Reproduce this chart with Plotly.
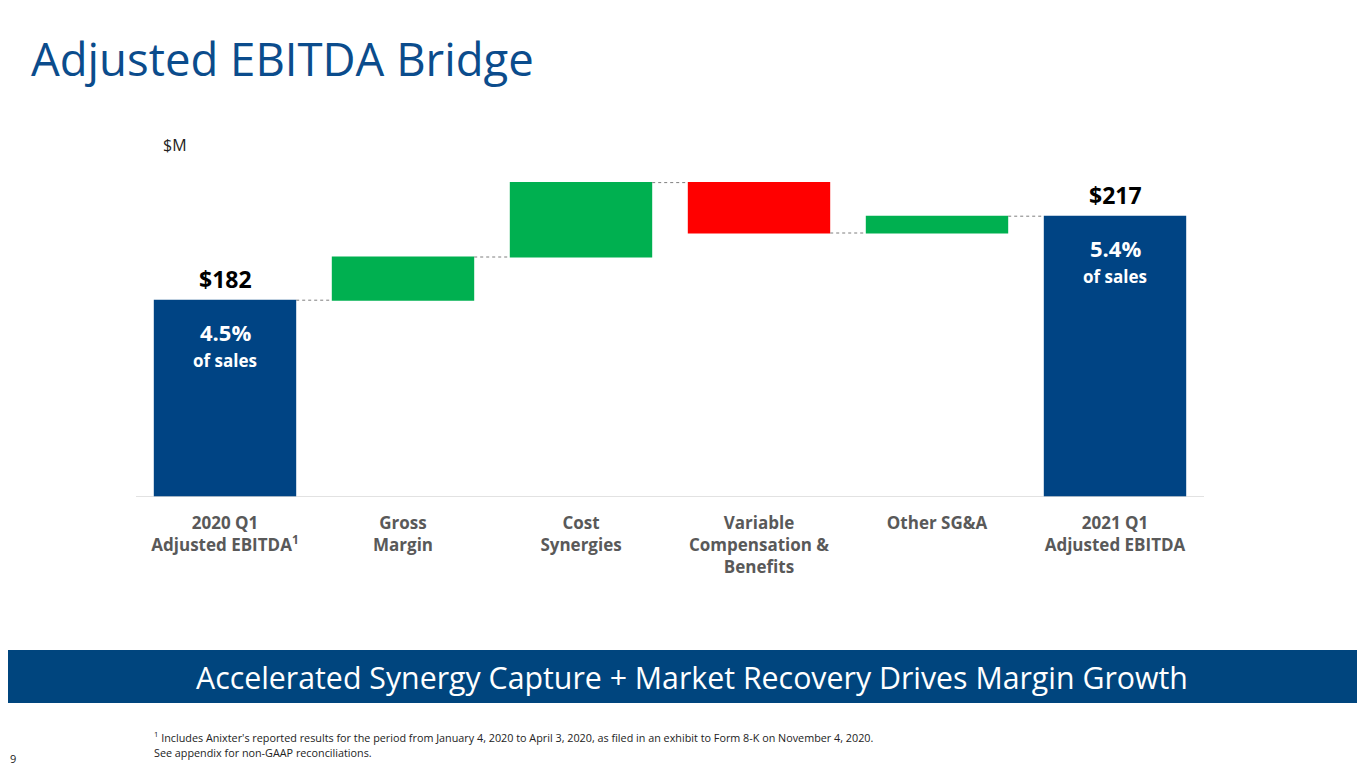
import plotly.graph_objects as go

categories = ["2020 Q1<br>Adjusted EBITDA<sup>1</sup>", "Gross<br>Margin", "Cost<br>Synergies",
              "Variable<br>Compensation &<br>Benefits", "Other SG&A", "2021 Q1<br>Adjusted EBITDA"]
measures = ["absolute", "relative", "relative", "relative", "relative", "total"]
values = [182, 18, 31, -21, 7, 0]
total_labels = ["$182", "$217"]
pct_labels = ["4.5%", "5.4%"]
pct_sub = ["of sales", "of sales"]

BLUE = "#004484"
FONT = "Open Sans"

# page offset (browser body margin) and plot area in screen pixels
OFF = 8
PL, PR, PT, PB = 136, 1204, 113, 497
W, H = 1365 - OFF, 768 - OFF


def px(sx, sy):
    return (sx - PL) / (PR - PL), (PB - sy) / (PB - PT)


fig = go.Figure(go.Waterfall(
    x=list(range(len(categories))),
    measure=measures,
    y=values,
    base=0,
    increasing=dict(marker=dict(color="#00B050")),
    decreasing=dict(marker=dict(color="#FF0000")),
    totals=dict(marker=dict(color=BLUE)),
    connector=dict(line=dict(color="#7F7F7F", width=1, dash="dot")),
    textposition="none",
    hoverinfo="skip",
))

cum = []
s = 0
for m, v in zip(measures, values):
    if m == "absolute":
        s = v
    elif m == "relative":
        s += v
    cum.append(s)
total_idx = [0, len(categories) - 1]

annotations = []
for k, i in enumerate(total_idx):
    annotations.append(dict(x=i, y=cum[i], xref="x", yref="y", text="<b>%s</b>" % total_labels[k],
                            showarrow=False, yanchor="bottom", yshift=3,
                            font=dict(family=FONT, size=23, color="#000000")))
    annotations.append(dict(x=i, y=cum[i], xref="x", yref="y", text="<b>%s</b>" % pct_labels[k],
                            showarrow=False, yanchor="top", yshift=-15,
                            font=dict(family=FONT, size=22, color="#FFFFFF")))
    annotations.append(dict(x=i, y=cum[i], xref="x", yref="y", text="<b>%s</b>" % pct_sub[k],
                            showarrow=False, yanchor="top", yshift=-47,
                            font=dict(family=FONT, size=17, color="#FFFFFF")))


def screen_text(sx, sy, text, size, color, xanchor="left"):
    x, y = px(sx, sy)
    return dict(x=x, y=y, xref="paper", yref="paper", text=text, showarrow=False,
                xanchor=xanchor, yanchor="middle", font=dict(family=FONT, size=size, color=color))


annotations += [
    screen_text(29, 58, "Adjusted EBITDA Bridge", 45.5, "#0B4C8C"),
    screen_text(161, 145, "$M", 16, "#222222"),
    screen_text(692, 677, "Accelerated Synergy Capture + Market Recovery Drives Margin Growth", 30.3,
                "#FFFFFF", xanchor="center"),
    screen_text(152, 737, "<sup>1</sup> Includes Anixter's reported results for the period from January 4, 2020 to April 3, 2020, as filed in an exhibit to Form 8-K on November 4, 2020.",
                10.8, "#222222"),
    screen_text(152, 752, "See appendix for non-GAAP reconciliations.", 10.8, "#222222"),
    screen_text(8, 758, "9", 11, "#222222"),
]

bx0, by0 = px(0, 703)
bx1, by1 = px(1365, 650)

fig.update_layout(
    width=W, height=H,
    margin=dict(l=PL - OFF, r=W - (PR - OFF), t=PT - OFF, b=H - (PB - OFF)),
    paper_bgcolor="white", plot_bgcolor="white",
    showlegend=False,
    bargap=0.2,
    xaxis=dict(tickmode="array", tickvals=list(range(len(categories))), ticktext=categories,
               range=[-0.5, len(categories) - 0.5], showgrid=False, zeroline=False,
               showline=False, ticks="", ticklabelstandoff=14,
               tickfont=dict(family=FONT, size=17, color="#595959", weight="bold")),
    yaxis=dict(range=[100, 260], visible=False),
    annotations=annotations,
    shapes=[
        dict(type="line", xref="paper", yref="y", x0=0, x1=1, y0=100, y1=100,
             line=dict(color="#D9D9D9", width=1.5)),
        dict(type="rect", xref="paper", yref="paper", x0=bx0, x1=bx1, y0=by0, y1=by1,
             fillcolor="#00457E", line=dict(width=0), layer="below"),
    ],
)

fig.write_html("out.html")
